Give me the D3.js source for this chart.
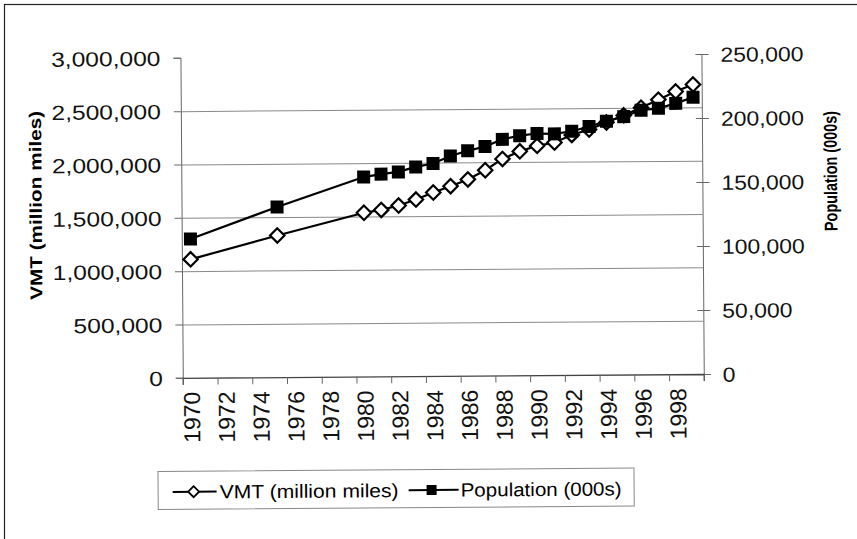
<!DOCTYPE html>
<html>
<head>
<meta charset="utf-8">
<script src="https://cdn.jsdelivr.net/npm/d3@7"></script>
<style>
  html, body { margin: 0; padding: 0; background: #fff; }
  svg { display: block; font-family: "Liberation Sans", Arial, sans-serif; }
</style>
</head>
<body>
<svg id="chart" width="857" height="539"></svg>
<script>
// categories on the x axis (one band per year)
const axisYears = [1970, 1971, 1972, 1973, 1974, 1975, 1976, 1977, 1978, 1979,
                   1980, 1981, 1982, 1983, 1984, 1985, 1986, 1987, 1988, 1989,
                   1990, 1991, 1992, 1993, 1994, 1995, 1996, 1997, 1998, 1999]
const labelYears = [1970, 1972, 1974, 1976, 1978, 1980, 1982, 1984, 1986, 1988,
                    1990, 1992, 1994, 1996, 1998]

// years that actually have data
const dataYears = [1970, 1975, 1980, 1981, 1982, 1983, 1984, 1985, 1986, 1987, 1988,
                   1989, 1990, 1991, 1992, 1993, 1994, 1995, 1996, 1997, 1998, 1999]

// VMT (million miles)
const vmt = [1110000, 1328000, 1535000, 1560000, 1600000, 1655000, 1720000, 1778000,
             1840000, 1925000, 2030000, 2100000, 2150000, 2180000, 2250000, 2300000,
             2365000, 2430000, 2500000, 2575000, 2650000, 2715000]

// Population (000s)
const population = [108400, 132900, 155800, 158000, 159600, 163400, 166000, 171700,
                    175700, 179000, 184400, 187200, 188800, 188400, 190400, 194000,
                    198000, 201500, 206400, 207800, 211600, 216300]

const leftTicks = [0, 500000, 1000000, 1500000, 2000000, 2500000, 3000000]
const gridTicks = [500000, 1000000, 1500000, 2000000, 2500000]
const rightTicks = [0, 50000, 100000, 150000, 200000, 250000]

const svg = d3.select("#chart")

// frame around the whole picture
svg.append("rect")
    .attr("x", 4.5).attr("y", 4.5)
    .attr("width", 860).attr("height", 540)
    .attr("fill", "none")
    .attr("stroke", "#222")
    .attr("stroke-width", 1.2)

// the scan is a little tilted
const g = svg.append("g").attr("transform", "rotate(-0.42 428 270)")

const plotLeft = 182, plotRight = 703, plotTop = 56, plotBottom = 376

const x = d3.scaleBand().domain(axisYears).range([plotLeft, plotRight])
const xIdx = d3.scaleLinear().domain([0, axisYears.length]).range([plotLeft, plotRight])
const yL = d3.scaleLinear().domain([0, 3000000]).range([plotBottom, plotTop])
const yR = d3.scaleLinear().domain([0, 250000]).range([plotBottom, plotTop])
const fmt = d3.format(",")

// gridlines
g.append("g")
    .attr("transform", `translate(${plotLeft},0)`)
    .call(d3.axisLeft(yL).tickValues(gridTicks).tickSize(-(plotRight - plotLeft)).tickFormat(""))
    .call(a => a.select(".domain").remove())
    .call(a => a.selectAll("line").attr("stroke", "#8a8a8a").attr("stroke-width", 1))

// left axis
g.append("g")
    .attr("transform", `translate(${plotLeft},0)`)
    .call(d3.axisLeft(yL).tickValues(leftTicks).tickSize(7).tickFormat(fmt))
    .call(a => a.select(".domain").attr("stroke", "#666"))
    .call(a => a.selectAll("line").attr("stroke", "#666"))
    .call(a => a.selectAll("text")
        .attr("x", 0).attr("dy", "0.36em")
        .attr("transform", "translate(-20,0) scale(1.2,1)")
        .attr("font-size", 20.5).attr("fill", "#111")
        .attr("font-family", "Liberation Sans, Arial, sans-serif"))

// right axis (cross ticks)
g.append("g")
    .attr("transform", `translate(${plotRight},0)`)
    .call(d3.axisRight(yR).tickValues(rightTicks).tickSize(7).tickFormat(fmt))
    .call(a => a.select(".domain").attr("stroke", "#666"))
    .call(a => a.selectAll("line").attr("x1", -6).attr("stroke", "#666"))
    .call(a => a.selectAll("text")
        .attr("x", 0).attr("dy", "0.36em")
        .attr("transform", "translate(19,0) scale(1.12,1)")
        .attr("font-size", 20.5).attr("fill", "#111")
        .attr("font-family", "Liberation Sans, Arial, sans-serif"))

// bottom axis: ticks between categories
g.append("g")
    .attr("transform", `translate(0,${plotBottom})`)
    .call(d3.axisBottom(xIdx).tickValues(d3.range(0, axisYears.length + 1, 2)).tickSize(7).tickFormat(""))
    .call(a => a.select(".domain").attr("stroke", "#444").attr("stroke-width", 1.3))
    .call(a => a.selectAll("line").attr("stroke", "#666"))

// bottom axis: year labels
g.append("g")
    .attr("transform", `translate(0,${plotBottom})`)
    .call(d3.axisBottom(x).tickValues(labelYears).tickSize(0))
    .call(a => a.select(".domain").remove())
    .call(a => a.selectAll("text")
        .attr("y", 0).attr("x", -14).attr("dy", "0.36em")
        .attr("transform", "rotate(-90)")
        .attr("text-anchor", "end")
        .attr("font-size", 23).attr("fill", "#111")
        .attr("font-family", "Liberation Sans, Arial, sans-serif"))

// axis titles
g.append("text")
    .attr("transform", "translate(36,202.5) rotate(-90)")
    .attr("text-anchor", "middle").attr("dy", "0.36em")
    .attr("font-size", 17).attr("font-weight", "bold")
    .attr("textLength", 189).attr("lengthAdjust", "spacingAndGlyphs")
    .text("VMT (million miles)")

g.append("text")
    .attr("transform", "translate(831,174) rotate(-90)")
    .attr("text-anchor", "middle").attr("dy", "0.36em")
    .attr("font-size", 18.5).attr("font-weight", "bold")
    .attr("textLength", 120).attr("lengthAdjust", "spacingAndGlyphs")
    .text("Population (000s)")

// series
const vmtPts = dataYears.map((yr, i) => [x(yr) + x.bandwidth() / 2, yL(vmt[i])])
const popPts = dataYears.map((yr, i) => [x(yr) + x.bandwidth() / 2, yR(population[i])])
const line = d3.line()

const diamond = r => `M0,${-r}L${r},0L0,${r}L${-r},0Z`

g.append("path").attr("d", line(vmtPts))
    .attr("fill", "none").attr("stroke", "#000").attr("stroke-width", 2.2)
g.append("g").selectAll("path")
    .data(vmtPts)
    .join("path")
    .attr("transform", d => `translate(${d[0]},${d[1]})`)
    .attr("d", diamond(7.2))
    .attr("fill", "#fff").attr("stroke", "#000").attr("stroke-width", 2.2)

g.append("path").attr("d", line(popPts))
    .attr("fill", "none").attr("stroke", "#000").attr("stroke-width", 2.2)
g.append("g").selectAll("rect")
    .data(popPts)
    .join("rect")
    .attr("x", d => d[0] - 6.5).attr("y", d => d[1] - 6.5)
    .attr("width", 13).attr("height", 13)
    .attr("fill", "#000")

// legend
const lg = g.append("g")
lg.append("rect")
    .attr("x", 156.5).attr("y", 469.5).attr("width", 476).attr("height", 38)
    .attr("fill", "#fff").attr("stroke", "#888").attr("stroke-width", 1)
const ly = 490
lg.append("line").attr("x1", 171).attr("x2", 215).attr("y1", ly).attr("y2", ly)
    .attr("stroke", "#000").attr("stroke-width", 2)
lg.append("path").attr("transform", `translate(192,${ly})`).attr("d", diamond(5.5))
    .attr("fill", "#fff").attr("stroke", "#000").attr("stroke-width", 1.8)
lg.append("text").attr("x", 218).attr("y", ly).attr("dy", "0.36em")
    .attr("font-size", 19).attr("textLength", 179).attr("lengthAdjust", "spacingAndGlyphs")
    .text("VMT (million miles)")
lg.append("line").attr("x1", 407).attr("x2", 457).attr("y1", ly).attr("y2", ly)
    .attr("stroke", "#000").attr("stroke-width", 2)
lg.append("rect").attr("x", 425).attr("y", ly - 5).attr("width", 10).attr("height", 10)
    .attr("fill", "#000")
lg.append("text").attr("x", 459).attr("y", ly).attr("dy", "0.36em")
    .attr("font-size", 19).attr("textLength", 161).attr("lengthAdjust", "spacingAndGlyphs")
    .text("Population (000s)")
</script>
</body>
</html>
